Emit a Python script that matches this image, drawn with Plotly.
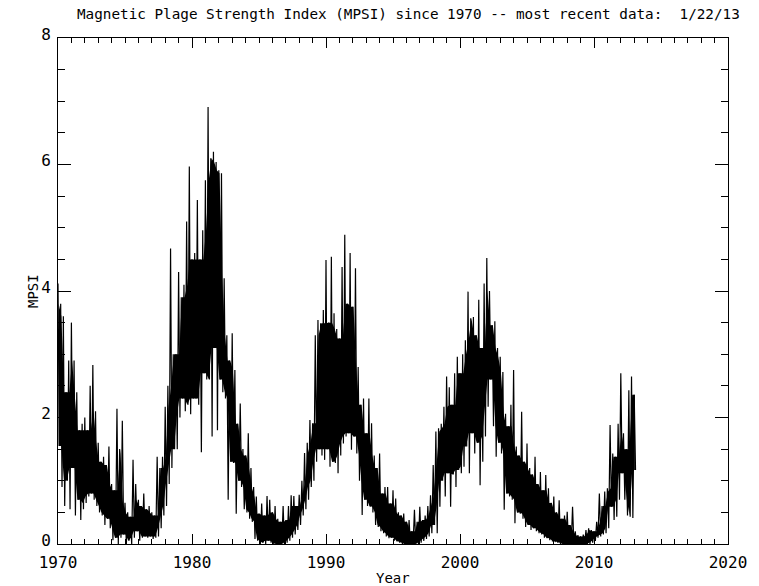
import numpy as np
import plotly.graph_objects as go

# Daily MPSI summarised as the upper and lower reach of the daily trace
# in consecutive 0.2-year bins, beginning at 1970.0
bin_start = 1970.0
bin_width = 0.2

upper_1970s = [
    4.12, 3.80, 3.60, 2.40, 2.90,
    3.50, 2.90, 2.40, 1.80, 1.90,
    2.00, 1.80, 2.50, 2.83, 2.10,
    1.60, 1.30, 1.38, 1.25, 1.54,
    0.95, 0.85, 2.14, 1.50, 1.95,
    0.65, 0.50, 0.43, 1.33, 0.95,
    0.70, 0.60, 0.80, 0.55, 0.60,
    0.50, 0.45, 1.38, 1.20, 1.38,
    2.17, 2.50, 4.67, 3.00, 3.00,
    4.30, 3.90, 4.10, 5.10, 5.97,
]
lower_1970s = [
    1.55, 0.90, 0.60, 1.00, 0.55,
    1.20, 0.45, 0.70, 0.38, 0.55,
    0.65, 0.75, 0.80, 0.70, 0.60,
    0.50, 0.45, 0.30, 0.40, 0.25,
    0.06, 0.10, 0.00, 0.10, 0.15,
    0.00, 0.05, 0.00, 0.10, 0.20,
    0.05, 0.10, 0.12, 0.10, 0.12,
    0.08, 0.10, 0.12, 0.25, 0.45,
    0.60, 0.95, 1.20, 1.50, 1.50,
    2.00, 2.30, 2.10, 2.20, 2.05,
]

upper_1980s = [
    4.50, 4.60, 5.44, 4.50, 4.96,
    5.75, 6.91, 6.10, 6.20, 6.04,
    5.91, 5.86, 4.20, 3.30, 2.90,
    3.33, 2.75, 1.90, 2.22, 1.50,
    1.40, 1.75, 1.20, 0.90, 0.75,
    0.48, 0.64, 0.45, 0.76, 0.70,
    0.50, 0.60, 0.40, 0.35, 0.60,
    0.38, 0.60, 0.77, 0.76, 0.60,
    0.78, 1.00, 1.44, 1.60, 1.96,
    1.91, 3.30, 3.54, 3.49, 3.70,
]
lower_1980s = [
    2.30, 2.30, 2.20, 1.45, 2.70,
    2.60, 2.60, 1.70, 3.10, 1.80,
    2.60, 2.40, 2.30, 0.70, 1.30,
    1.28, 0.48, 1.00, 0.90, 0.55,
    0.50, 0.40, 0.35, 0.08, 0.05,
    0.00, 0.02, 0.00, 0.05, 0.02,
    0.00, 0.00, 0.00, 0.00, 0.00,
    0.02, 0.05, 0.10, 0.15, 0.22,
    0.30, 0.45, 0.55, 0.70, 0.90,
    1.00, 1.30, 1.50, 1.40, 1.33,
]

upper_1990s = [
    4.49, 3.50, 4.54, 3.65, 3.40,
    3.25, 4.38, 4.89, 3.80, 4.60,
    3.75, 4.36, 2.80, 2.20, 2.30,
    1.75, 2.30, 1.91, 1.40, 1.20,
    1.43, 0.80, 0.90, 0.90, 0.64,
    0.85, 0.72, 0.50, 0.45, 0.48,
    0.35, 0.38, 0.20, 0.54, 0.35,
    0.59, 0.38, 0.45, 0.60, 0.77,
    1.25, 1.78, 1.83, 1.90, 2.17,
    2.65, 2.48, 2.20, 2.70, 2.96,
]
lower_1990s = [
    1.50, 1.22, 1.30, 1.28, 1.12,
    1.40, 1.59, 1.70, 1.75, 1.49,
    1.70, 1.43, 1.00, 0.46, 0.70,
    0.60, 0.59, 0.50, 0.30, 0.27,
    0.20, 0.17, 0.12, 0.09, 0.10,
    0.05, 0.04, 0.02, 0.00, 0.00,
    0.00, 0.00, 0.00, 0.00, 0.00,
    0.02, 0.05, 0.08, 0.12, 0.17,
    0.30, 0.17, 0.59, 1.00, 0.75,
    1.12, 0.59, 1.10, 0.90, 1.17,
]

upper_2000s = [
    2.70, 3.00, 3.22, 3.99, 3.57,
    3.59, 3.30, 3.86, 3.10, 4.12,
    4.52, 4.00, 3.46, 3.52, 3.10,
    2.96, 2.72, 2.06, 1.86, 2.20,
    2.75, 1.54, 1.40, 2.09, 1.30,
    1.59, 1.20, 1.10, 1.38, 0.95,
    1.14, 0.85, 1.09, 0.88, 0.65,
    0.75, 0.50, 0.69, 0.40, 0.45,
    0.51, 0.30, 0.59, 0.20, 0.14,
    0.12, 0.15, 0.22, 0.25, 0.22,
    0.20, 0.35, 0.80, 0.60, 0.83,
    0.88, 1.88, 1.43, 1.38, 1.90,
    2.70, 1.75, 1.50, 2.43, 2.65,
    2.36,
]
lower_2000s = [
    1.12, 1.22, 1.54, 1.12, 1.75,
    1.43, 1.60, 0.93, 1.30, 1.70,
    2.17, 2.60, 1.86, 1.38, 1.60,
    1.43, 0.54, 0.80, 0.75, 0.70,
    0.33, 0.50, 0.48, 0.40, 0.27,
    0.30, 0.22, 0.25, 0.20, 0.17,
    0.15, 0.10, 0.09, 0.06, 0.04,
    0.03, 0.02, 0.00, 0.00, 0.00,
    0.00, 0.00, 0.00, 0.00, 0.00,
    0.00, 0.00, 0.00, 0.00, 0.02,
    0.05, 0.10, 0.12, 0.15, 0.17,
    0.25, 0.59, 0.38, 0.43, 0.70,
    1.12, 0.70, 0.45, 0.43, 0.41,
    1.17,
]

title_text = "Magnetic Plage Strength Index (MPSI) since 1970 -- most recent data:  1/22/13"
x_title = "Year"
y_title = "MPSI"
x_ticks = [1970, 1980, 1990, 2000, 2010, 2020]
y_ticks = [0, 2, 4, 6, 8]

upper = np.array(upper_1970s + upper_1980s + upper_1990s + upper_2000s)
lower = np.array(lower_1970s + lower_1980s + lower_1990s + lower_2000s)
t = bin_start + bin_width * np.arange(len(upper))

# trace swings from each bin's top to its bottom, as the daily series does
xs = np.empty(2 * len(t))
ys = np.empty(2 * len(t))
xs[0::2] = t
xs[1::2] = t + bin_width / 2
ys[0::2] = upper
ys[1::2] = lower

# dense core of the band: what the neighbouring bins share, so single
# spikes and dips stand out of it as thin strokes
pad_u = np.pad(upper, 1, mode="edge")
pad_l = np.pad(lower, 1, mode="edge")
core_top = np.minimum(np.minimum(pad_u[:-2], pad_u[1:-1]), pad_u[2:])
core_bot = np.maximum(np.maximum(pad_l[:-2], pad_l[1:-1]), pad_l[2:])
core_bot = np.minimum(core_bot, core_top)
tc = t + bin_width / 4

FONT = "DejaVu Sans Mono"

fig = go.Figure()
fig.add_trace(go.Scatter(
    x=tc, y=core_bot, mode="lines", line=dict(width=0, color="black"),
    hoverinfo="skip", showlegend=False,
))
fig.add_trace(go.Scatter(
    x=tc, y=core_top, mode="lines", line=dict(width=0, color="black"),
    fill="tonexty", fillcolor="black",
    hoverinfo="skip", showlegend=False,
))
fig.add_trace(go.Scatter(
    x=xs, y=ys, mode="lines",
    line=dict(color="black", width=1.2),
    hoverinfo="skip", showlegend=False,
))

axis_common = dict(
    showline=True, linecolor="black", linewidth=1, mirror="ticks",
    ticks="inside", tickcolor="black", tickwidth=1,
    showgrid=False, zeroline=False,
    tickfont=dict(family=FONT, size=16, color="black"),
)

fig.update_xaxes(
    range=[1970, 2020], tickvals=x_ticks, ticklen=10, ticklabelstandoff=4,
    minor=dict(dtick=1, ticks="inside", ticklen=5, tickcolor="black", showgrid=False),
    **axis_common,
)
fig.update_yaxes(
    range=[0, 8], tickvals=y_ticks, ticklen=13, ticklabelstandoff=3,
    ticklabelshift=-4,
    minor=dict(dtick=0.5, ticks="inside", ticklen=7, tickcolor="black", showgrid=False),
    **axis_common,
)

fig.add_annotation(
    text=title_text, xref="paper", yref="paper", x=0.523, y=1,
    yanchor="middle", yshift=24, showarrow=False,
    font=dict(family=FONT, size=14.3, color="black"),
)
fig.add_annotation(
    text=x_title, xref="paper", yref="paper", x=0.5, y=0,
    yanchor="middle", yshift=-34, showarrow=False,
    font=dict(family=FONT, size=14, color="black"),
)
fig.add_annotation(
    text=y_title, xref="paper", yref="paper", x=0, y=0.5,
    xanchor="center", xshift=-25, textangle=-90, showarrow=False,
    font=dict(family=FONT, size=14, color="black"),
)

fig.update_layout(
    width=759, height=586,
    margin=dict(l=58, r=28, t=38, b=42),
    paper_bgcolor="white", plot_bgcolor="white",
)

fig.write_html("out.html")
